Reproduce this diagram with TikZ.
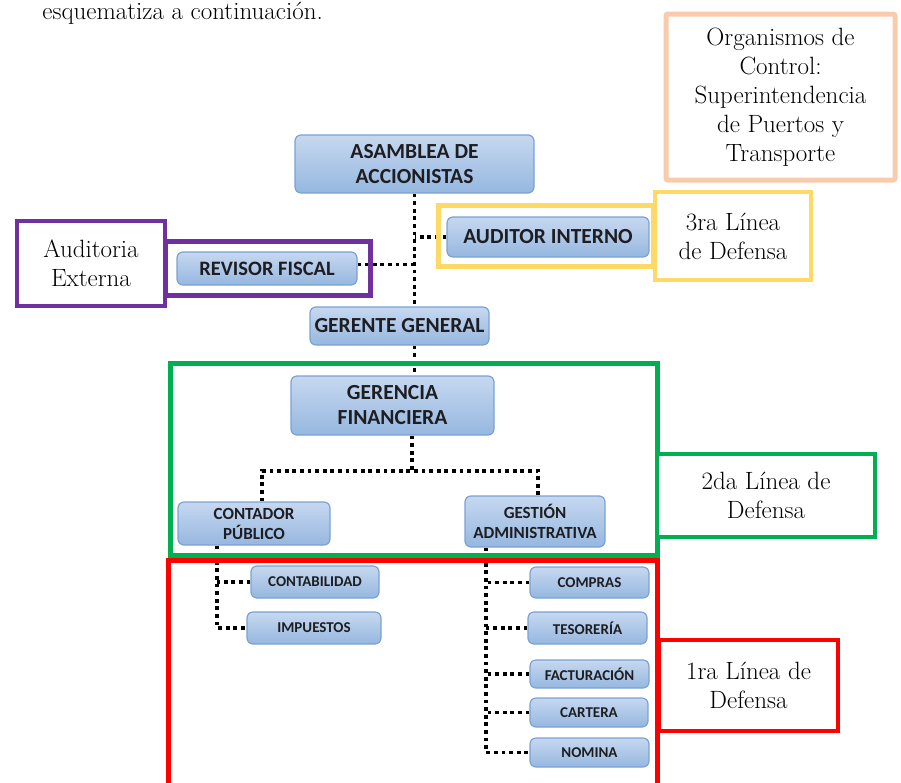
\documentclass[tikz,border=0pt]{standalone}
\usepackage{fontspec}
\newfontfamily\chartfont{Carlito}
\usetikzlibrary{positioning}
\definecolor{boxtop}{RGB}{198,216,240}
\definecolor{boxbot}{RGB}{150,183,223}
\definecolor{boxline}{RGB}{122,162,212}
\definecolor{boxtext}{RGB}{30,30,34}
\definecolor{lineyellow}{RGB}{255,217,102}
\definecolor{linepurple}{RGB}{112,48,160}
\definecolor{linegreen}{RGB}{0,176,80}
\definecolor{linered}{RGB}{255,0,0}
\definecolor{linepeach}{RGB}{248,203,173}
\begin{document}
\begin{tikzpicture}[x=1pt, y=-1pt,
    unit/.style={draw=boxline, line width=1.2pt, rounded corners=6pt, top color=boxtop, bottom color=boxbot, align=center, inner sep=0pt, text=boxtext, font=\chartfont\bfseries\fontsize{21.5}{25}\selectfont},
    midunit/.style={unit, font=\chartfont\bfseries\fontsize{17}{20}\selectfont},
    smallunit/.style={unit, font=\chartfont\bfseries\fontsize{15}{17}\selectfont},
    tag/.style={draw, line width=4pt, fill=white, align=center, inner sep=0pt, font=\fontsize{25}{29}\selectfont},
    frame/.style={line width=5pt},
    link/.style={line width=3.8pt, dash pattern=on 3.8pt off 3.8pt}]
    \useasboundingbox (0,0) rectangle (901,782);
    \clip (0,0) rectangle (901,782);
    % text above the chart
    \node[anchor=base east, inner sep=0pt, font=\fontsize{25}{29}\selectfont] (intro) at (323,19) {esquematiza a continuación.};
    % Chart units
    \node[unit, minimum width=239pt, minimum height=58pt] (asamblea) at (414.5,164) {ASAMBLEA DE\\ACCIONISTAS};
    \node[unit, minimum width=202pt, minimum height=40pt] (auditor) at (548,237) {AUDITOR INTERNO};
    \node[unit, font=\chartfont\bfseries\fontsize{20.5}{24}\selectfont, minimum width=180pt, minimum height=33pt] (revisor) at (267,268.5) {REVISOR FISCAL};
    \node[unit, minimum width=179pt, minimum height=38pt] (gerente) at (399.5,326) {GERENTE GENERAL};
    \node[unit, minimum width=203pt, minimum height=59pt] (gerencia) at (392.5,405.5) {GERENCIA\\FINANCIERA};
    \node[midunit, minimum width=152pt, minimum height=43pt] (contador) at (254,523.5) {CONTADOR\\PÚBLICO};
    \node[midunit, minimum width=140pt, minimum height=51pt] (gestion) at (535,521.5) {GESTIÓN\\ADMINISTRATIVA};
    \node[smallunit, minimum width=128pt, minimum height=32pt] (contabilidad) at (315,582) {CONTABILIDAD};
    \node[smallunit, minimum width=134pt, minimum height=32pt] (impuestos) at (314,628) {IMPUESTOS};
    \node[smallunit, minimum width=119pt, minimum height=31pt] (compras) at (589.5,582.5) {COMPRAS};
    \node[smallunit, minimum width=119pt, minimum height=32pt] (tesoreria) at (587.5,628) {TESORERÍA};
    \node[smallunit, minimum width=119pt, minimum height=28pt] (facturacion) at (589.5,674) {FACTURACIÓN};
    \node[smallunit, minimum width=118pt, minimum height=29pt] (cartera) at (589,712.5) {CARTERA};
    \node[smallunit, minimum width=119pt, minimum height=29pt] (nomina) at (589.5,752.5) {NOMINA};
    % Dotted links
    \draw[link] (asamblea.south) -- (asamblea.south |- gerente.north);
    \draw[link] (auditor.west) -- (auditor.west -| asamblea.south);
    \draw[link] ([yshift=4pt]revisor.east) -- ([yshift=4pt]revisor.east -| asamblea.south);
    \draw[link] (gerente.south -| asamblea.south) -- (gerencia.north -| asamblea.south);
    \coordinate (split) at (412,471);
    \draw[link] (gerencia.south -| split) -- (split);
    \draw[link] ([xshift=8pt]contador.north) |- (split) -| ([xshift=3pt]gestion.north);
    \coordinate (ltrunk) at ([xshift=-37pt]contador.south);
    \draw[link] (ltrunk) |- (impuestos.west);
    \draw[link] (contabilidad.west) -- (contabilidad.west -| ltrunk);
    \coordinate (rtrunk) at ([xshift=-49pt]gestion.south);
    \draw[link] (rtrunk) |- (nomina.west);
    \foreach \n in {compras,tesoreria,facturacion,cartera}
        \draw[link] (\n.west) -- (\n.west -| rtrunk);
    % Lines of defence
    \draw[frame, draw=lineyellow] (438,205) rectangle (653,266);
    \draw[frame, draw=linepurple] (165,241) rectangle (370,295);
    \draw[frame, draw=linegreen] (170,363) rectangle (657,555);
    \draw[frame, draw=linered] (168,560) rectangle (657,790);
    \node[tag, draw=linepeach, line width=5pt, rounded corners=2pt, minimum width=229pt, minimum height=166pt] (organismos) at (780.5,97) {Organismos de\\Control:\\Superintendencia\\de Puertos y\\Transporte};
    \node[tag, draw=linepurple, minimum width=148pt, minimum height=85pt] (externa) at (91,263.5) {Auditoria\\Externa};
    \node[tag, draw=lineyellow, minimum width=156pt, minimum height=88pt] (tercera) at (733,236) {3ra Línea\\de Defensa};
    \node[tag, draw=linegreen, minimum width=218pt, minimum height=83pt] (segunda) at (766,495.5) {2da Línea de\\Defensa};
    \node[tag, draw=linered, minimum width=179pt, minimum height=91pt] (primera) at (748.5,685.5) {1ra Línea de\\Defensa};
\end{tikzpicture}
\end{document}
